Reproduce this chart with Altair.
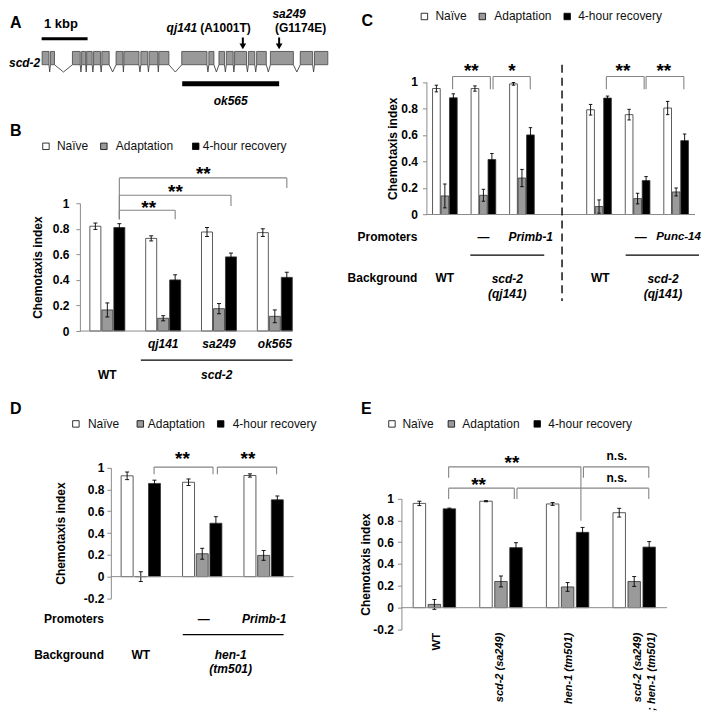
import altair as alt
import pandas as pd

FONT = "Liberation Sans"
SERIES = ["Naïve", "Adaptation", "4-hour recovery"]
FILLS = ["#ffffff", "#9a9a9a", "#000000"]

# ---------------- data ----------------
# A: scd-2 gene model (kbp)
A_exon_start = [0.01, 0.19, 0.67, 0.87, 0.98, 1.13, 1.31, 1.62, 1.79, 2.16, 2.34, 2.55,
                3.05, 3.64, 3.86, 4.02, 4.20, 4.50, 4.68, 4.98, 5.63, 5.94]
A_exon_end = [0.16, 0.28, 0.84, 0.96, 1.10, 1.28, 1.47, 1.77, 2.12, 2.31, 2.53, 2.77,
              3.60, 3.75, 3.98, 4.17, 4.46, 4.64, 4.89, 5.48, 5.90, 6.23]
A_deletion = [3.06, 5.17]          # ok565
A_mut_pos = [4.38, 5.17]
A_mut_name = ["qj141", "sa249"]
A_mut_change = ["(A1001T)", "(G1174E)"]

# B
B_groups = ["WT", "qj141", "sa249", "ok565"]
B_naive = [0.82, 0.725, 0.775, 0.77]
B_naive_err = [0.025, 0.02, 0.035, 0.03]
B_adapt = [0.165, 0.10, 0.175, 0.115]
B_adapt_err = [0.055, 0.02, 0.04, 0.05]
B_recov = [0.81, 0.40, 0.58, 0.42]
B_recov_err = [0.03, 0.04, 0.03, 0.04]
B_sig = ["**", "**", "**"]

# C
C_promoter = ["", "—", "Primb-1", "", "—", "Punc-14"]
C_background = ["WT", "scd-2\n(qj141)", "WT", "scd-2\n(qj141)"]
C_naive = [0.95, 0.95, 0.985, 0.79, 0.753, 0.803]
C_naive_err = [0.025, 0.02, 0.01, 0.04, 0.04, 0.05]
C_adapt = [0.14, 0.145, 0.275, 0.06, 0.12, 0.17]
C_adapt_err = [0.09, 0.045, 0.065, 0.05, 0.04, 0.03]
C_recov = [0.88, 0.415, 0.60, 0.878, 0.256, 0.557]
C_recov_err = [0.03, 0.045, 0.055, 0.015, 0.03, 0.05]
C_sig = ["**", "*", "**", "**"]

# D
D_promoter = ["", "—", "Primb-1"]
D_background = ["WT", "hen-1\n(tm501)"]
D_naive = [0.925, 0.866, 0.928]
D_naive_err = [0.035, 0.03, 0.015]
D_adapt = [0.0, 0.21, 0.195]
D_adapt_err = [0.045, 0.05, 0.045]
D_recov = [0.855, 0.49, 0.705]
D_recov_err = [0.03, 0.06, 0.035]
D_sig = ["**", "**"]

# E
E_groups = ["WT", "scd-2 (sa249)", "hen-1 (tm501)", "scd-2 (sa249)\n; hen-1 (tm501)"]
E_naive = [0.955, 0.975, 0.95, 0.87]
E_naive_err = [0.02, 0.005, 0.013, 0.04]
E_adapt = [0.03, 0.24, 0.19, 0.24]
E_adapt_err = [0.045, 0.05, 0.04, 0.045]
E_recov = [0.905, 0.55, 0.69, 0.555]
E_recov_err = [0.007, 0.045, 0.045, 0.05]
E_sig = ["**", "n.s.", "**", "n.s."]

# ---------------- layout ----------------
COL_W = [350, 335]
ROW_H = [112, 250, 330]
COL_X = [8, 8 + COL_W[0]]
ROW_Y = [8, 8 + ROW_H[0], 8 + ROW_H[0] + ROW_H[1]]
AX = "#8c8c8c"
BR = "#858585"


class Panel:
    """Linear x / y scales whose ranges are given as page pixels of two domain values."""

    def __init__(self, xd, xp, yd, yp, col, row, yax):
        self.xd, self.xp, self.yd, self.yp = xd, xp, yd, yp
        ox, oy = COL_X[col], ROW_Y[row]
        self.xs = alt.Scale(domain=list(xd), range=[xp[0] - ox, xp[1] - ox], zero=False, nice=False)
        self.ys = alt.Scale(domain=list(yd), range=[yp[0] - oy, yp[1] - oy], zero=False, nice=False)
        self.yax = yax

    def ux(self, px):
        return self.xd[0] + (px - self.xp[0]) * (self.xd[1] - self.xd[0]) / (self.xp[1] - self.xp[0])

    def uy(self, py):
        return self.yd[0] + (py - self.yp[0]) * (self.yd[1] - self.yd[0]) / (self.yp[1] - self.yp[0])

    def X(self, f):
        return alt.X(f"{f}:Q", scale=self.xs, axis=None)

    def Y(self, f):
        return alt.Y(f"{f}:Q", scale=self.ys, axis=self.yax)


def text_layer(P, xv, yv, tv, size=12, weight="bold", style="normal",
               align="center", baseline="middle", color="black", **kw):
    df = pd.DataFrame({"x": list(xv), "y": list(yv), "t": list(tv)})
    return alt.Chart(df).mark_text(font=FONT, fontSize=size, fontWeight=weight, fontStyle=style,
                                   align=align, baseline=baseline, color=color, **kw).encode(
        x=P.X("x"), y=P.Y("y"), text="t:N")


def hrule(P, x1, x2, yv, color="black", width=1.0, **kw):
    df = pd.DataFrame({"x": list(x1), "x2": list(x2), "y": list(yv)})
    return alt.Chart(df).mark_rule(color=color, strokeWidth=width, **kw).encode(
        x=P.X("x"), x2="x2", y=P.Y("y"))


def vrule(P, xv, y1, y2, color="black", width=1.0, **kw):
    df = pd.DataFrame({"x": list(xv), "y": list(y1), "y2": list(y2)})
    return alt.Chart(df).mark_rule(color=color, strokeWidth=width, **kw).encode(
        x=P.X("x"), y=P.Y("y"), y2="y2")


def yaxis(vals, offset, label_pad, title_pad):
    return alt.Axis(values=vals, labelExpr="toString(datum.value)", offset=offset,
                    tickSize=4, tickColor=AX, domainColor=AX, domainWidth=1, grid=False,
                    labelFont=FONT, labelFontSize=12, labelFontWeight="bold", labelColor="black",
                    labelPadding=label_pad, labelFlush=False, labelOverlap=False,
                    title="Chemotaxis index", titleFont=FONT, titleFontSize=12,
                    titleFontWeight="bold", titleColor="black", titlePadding=title_pad)


FILL_SCALE = alt.Scale(domain=SERIES, range=FILLS)


def legend_layers(P, sq_px, lab_px, y_px):
    y = P.uy(y_px)
    df = pd.DataFrame({"x": [P.ux(v) for v in sq_px], "y": [y] * 3, "series": SERIES})
    sq = alt.Chart(df).mark_point(shape="square", filled=True, size=42, stroke="black",
                                  strokeWidth=0.8, opacity=1).encode(
        x=P.X("x"), y=P.Y("y"), fill=alt.Fill("series:N", scale=FILL_SCALE, legend=None))
    lab = text_layer(P, [P.ux(v) for v in lab_px], [y] * 3, SERIES, weight="normal",
                     align="left", color="#111111")
    return [sq, lab]


def bar_layers(P, pos, vals, errs, pitch, bw, capw):
    rows = []
    for k, s in enumerate(SERIES):
        for i, p in enumerate(pos):
            c = p + (k - 1) * pitch
            v, e = vals[k][i], errs[k][i]
            rows.append({"series": s, "c": c, "x0": c - bw / 2, "x1": c + bw / 2, "v": v,
                         "base": 0.0, "lo": v - e, "hi": v + e, "k0": c - capw, "k1": c + capw})
    df = pd.DataFrame(rows)
    bars = alt.Chart(df).mark_bar(stroke="#333333", strokeWidth=0.8).encode(
        x=P.X("x0"), x2="x1", y=P.Y("v"), y2="base",
        fill=alt.Fill("series:N", scale=FILL_SCALE, legend=None))
    whisk = alt.Chart(df).mark_rule(color="black", strokeWidth=0.9).encode(
        x=P.X("c"), y=P.Y("lo"), y2="hi")
    cap_hi = alt.Chart(df).mark_rule(color="black", strokeWidth=0.9).encode(
        x=P.X("k0"), x2="k1", y=P.Y("hi"))
    cap_lo = alt.Chart(df).mark_rule(color="black", strokeWidth=0.9).encode(
        x=P.X("k0"), x2="k1", y=P.Y("lo"))
    return [bars, whisk, cap_hi, cap_lo]


def bracket_layers(P, x1, x2, level, tip1, tip2, labels, lx, ly):
    layers = [hrule(P, x1, x2, level, BR, 1.1),
              vrule(P, x1, level, tip1, BR, 1.1),
              vrule(P, x2, level, tip2, BR, 1.1)]
    st = [(a, b, t) for a, b, t in zip(lx, ly, labels) if "*" in t]
    ns = [(a, b, t) for a, b, t in zip(lx, ly, labels) if "*" not in t]
    if st:
        layers.append(text_layer(P, [s[0] for s in st], [s[1] for s in st],
                                 [s[2] for s in st], size=19, baseline="alphabetic", dy=11))
    if ns:
        layers.append(text_layer(P, [s[0] for s in ns], [s[1] for s in ns],
                                 [s[2] for s in ns], size=12, baseline="alphabetic", dy=4))
    return layers


# ---------------- panel A ----------------
PA = Panel((0, 1), (40.7, 86.7), (0, 1), (63.3, 50.0), 0, 0, None)
exon_df = pd.DataFrame({"s": A_exon_start, "e": A_exon_end, "b": 0.0, "t": 1.0})
exons = alt.Chart(exon_df).mark_rect(fill="#999999", stroke="#444444", strokeWidth=0.8).encode(
    x=PA.X("s"), x2="e", y=PA.Y("b"), y2="t")
irows = []
for i in range(len(A_exon_start) - 1):
    a, b = A_exon_end[i], A_exon_start[i + 1]
    irows += [{"id": i, "o": 0, "x": a, "y": 0.0},
              {"id": i, "o": 1, "x": (a + b) / 2, "y": -0.55},
              {"id": i, "o": 2, "x": b, "y": 0.0}]
introns = alt.Chart(pd.DataFrame(irows)).mark_line(color="#444444", strokeWidth=0.9).encode(
    x=PA.X("x"), y=PA.Y("y"), detail="id:N", order="o:Q")
heads = alt.Chart(pd.DataFrame({"x": A_mut_pos, "y": [1.38] * 2})).mark_point(
    shape="triangle-down", filled=True, size=45, color="black", opacity=1).encode(
    x=PA.X("x"), y=PA.Y("y"))
lab_y = PA.uy(31.0)
panelA = alt.layer(
    introns, exons,
    hrule(PA, [0], [1], [1.955], "black", 3),
    hrule(PA, [A_deletion[0]], [A_deletion[1]], [-1.44], "black", 5),
    vrule(PA, A_mut_pos, [2.05] * 2, [1.5] * 2, "black", 2),
    heads,
    text_layer(PA, [PA.ux(9)], [PA.uy(27)], ["A"], size=16, align="left", baseline="alphabetic"),
    text_layer(PA, [0.05], [2.73], ["1 kbp"], size=13, align="left", baseline="alphabetic"),
    text_layer(PA, [-0.03], [-0.2], ["scd-2"], style="italic", align="right",
               baseline="alphabetic"),
    text_layer(PA, [3.387], [lab_y], [A_mut_name[0]], style="italic", align="right",
               baseline="alphabetic"),
    text_layer(PA, [3.452], [lab_y], [A_mut_change[0]], align="left", baseline="alphabetic"),
    text_layer(PA, [5.387], [PA.uy(17.0)], [A_mut_name[1]], style="italic", baseline="alphabetic"),
    text_layer(PA, [5.637], [lab_y], [A_mut_change[1]], baseline="alphabetic"),
    text_layer(PA, [4.115], [-3.0], ["ok565"], style="italic", baseline="alphabetic"),
).properties(width=COL_W[0], height=ROW_H[0])

# ---------------- panel B ----------------
Y01 = [0, 0.2, 0.4, 0.6, 0.8, 1]
YM = [-0.2, 0, 0.2, 0.4, 0.6, 0.8, 1]
PB = Panel((0, 1), (106.5, 162.4), (0, 1), (330, 202), 0, 1,
           yaxis(Y01, -(79 - COL_X[0]), 7, 7.5))
B_pos = [0, 1, 2, 3]
panelB = alt.layer(
    *bar_layers(PB, B_pos, [B_naive, B_adapt, B_recov],
                [B_naive_err, B_adapt_err, B_recov_err], 0.2147, 0.197, 0.036),
    hrule(PB, [-0.492], [3.318], [0], AX, 1),
    *bracket_layers(PB, [0.215] * 3, [1.215, 2.215, 3.215], [0.945, 1.0625, 1.198],
                    [0.875] * 3, [0.875, 0.979, 1.12], B_sig, [0.74, 1.22, 1.72], [1.0, 1.13, 1.27]),
    text_layer(PB, B_pos[1:], [-0.133] * 3, B_groups[1:], style="italic", baseline="alphabetic"),
    hrule(PB, [0.6], [3.318], [-0.227], "black", 1.2),
    text_layer(PB, [0], [-0.375], [B_groups[0]], baseline="alphabetic"),
    text_layer(PB, [1.96], [-0.375], ["scd-2"], style="italic", baseline="alphabetic"),
    text_layer(PB, [PB.ux(9)], [PB.uy(135)], ["B"], size=16, align="left", baseline="alphabetic"),
    *legend_layers(PB, [45, 103, 195], [56, 115, 202], 145),
).properties(width=COL_W[0], height=ROW_H[1])

# ---------------- panel C ----------------
PC = Panel((0, 1), (444.5, 483.1), (0, 1), (213.3, 80.5), 1, 0,
           yaxis(Y01, -(426 - COL_X[1]), 5, 1.5))
C_pos = [0, 1, 2, 4, 5, 6]
panelC = alt.layer(
    *bar_layers(PC, C_pos, [C_naive, C_adapt, C_recov],
                [C_naive_err, C_adapt_err, C_recov_err], 0.22, 0.2, 0.045),
    hrule(PC, [-0.479], [6.49], [0], AX, 1),
    *bracket_layers(PC, [0.20, 1.25, 4.19, 5.22], [1.18, 2.215, 5.17, 6.2], [1.041] * 4,
                    [0.945] * 4, [0.945] * 4, C_sig, [0.687, 1.74, 4.62, 5.68], [1.117] * 4),
    vrule(PC, [3.04], [1.13], [-0.653], "#222222", 1.6, strokeDash=[8, 5]),
    text_layer(PC, [-0.712, -0.712], [-0.171, -0.477], ["Promoters", "Background"],
               align="right"),
    text_layer(PC, [1.0, 5.08], [-0.171] * 2, [C_promoter[1], C_promoter[4]]),
    text_layer(PC, [2.228], [-0.171], [C_promoter[2]], style="italic"),
    text_layer(PC, [PC.ux(678.5)], [-0.171], [C_promoter[5]], style="italic", size=11.5),
    hrule(PC, [0.66, 4.69], [2.578, PC.ux(699)], [-0.306] * 2, "black", 1.2),
    text_layer(PC, [0, 4.03], [-0.477] * 2, [C_background[0], C_background[2]]),
    text_layer(PC, [1.62, 5.66], [-0.483] * 2, [C_background[1], C_background[3]],
               style="italic", lineBreak="\n", lineHeight=15),
    text_layer(PC, [PC.ux(361)], [PC.uy(25)], ["C"], size=16, align="left", baseline="alphabetic"),
    *legend_layers(PC, [424, 482, 567], [435, 494, 578], 15),
).properties(width=COL_W[1], height=ROW_H[0])

# ---------------- panel D ----------------
PD = Panel((0, 1), (140, 201.5), (-0.2, 1), (597.8, 466.8), 0, 2,
           yaxis(YM, -(110 - COL_X[0]), 3, 15.5))
D_pos = [0, 1, 2]
panelD = alt.layer(
    *bar_layers(PD, D_pos, [D_naive, D_adapt, D_recov],
                [D_naive_err, D_adapt_err, D_recov_err], 0.2228, 0.195, 0.033),
    hrule(PD, [-0.488], [2.488], [0], AX, 1),
    *bracket_layers(PD, [0.216, 1.247], [1.176, 2.211], [1.005] * 2, [0.94] * 2,
                    [0.94] * 2, D_sig, [0.678, 1.745], [1.124] * 2),
    text_layer(PD, [-0.60, -0.60], [-0.385, -0.723], ["Promoters", "Background"],
               align="right"),
    text_layer(PD, [1.024], [-0.385], [D_promoter[1]]),
    text_layer(PD, [2.01], [-0.385], [D_promoter[2]], style="italic"),
    hrule(PD, [0.683], [2.325], [-0.531], "black", 1.2),
    text_layer(PD, [0], [-0.723], [D_background[0]]),
    text_layer(PD, [1.463], [-0.723], [D_background[1]], style="italic",
               lineBreak="\n", lineHeight=14),
    text_layer(PD, [PD.ux(9)], [PD.uy(413)], ["D"], size=16, align="left", baseline="alphabetic"),
    *legend_layers(PD, [75, 139.5, 220], [87, 147, 232], 423),
).properties(width=COL_W[0], height=ROW_H[2])

# ---------------- panel E ----------------
PE = Panel((0, 1), (434, 500.7), (-0.2, 1), (628.9, 497.7), 1, 1,
           yaxis(YM, -(401 - COL_X[1]), 4, 0))
E_pos = [0, 1, 2, 3]
panelE = alt.layer(
    *bar_layers(PE, E_pos, [E_naive, E_adapt, E_recov],
                [E_naive_err, E_adapt_err, E_recov_err], 0.225, 0.187, 0.03),
    hrule(PE, [-0.495], [3.493], [0], AX, 1),
    *bracket_layers(PE, [0.214, 2.238, 0.214, 1.24], [2.2, 3.219, 1.2, 3.219],
                    [1.29, 1.29, 1.095, 1.095], [1.189, 1.189, 0.9945, 0.9945],
                    [0.796, 1.189, 0.9945, 0.9945], E_sig,
                    [1.165, 2.739, 0.664, 2.739], [1.37, 1.385, 1.171, 1.187]),
    text_layer(PE, [0.04], [-0.229], [E_groups[0]], angle=270, align="right", size=11.5),
    text_layer(PE, [0.99, 2.02, 3.05], [-0.229] * 3, E_groups[1:], style="italic",
               angle=270, align="right", lineBreak="\n", lineHeight=15, size=11),
    text_layer(PE, [PE.ux(360.5)], [PE.uy(413)], ["E"], size=16, align="left", baseline="alphabetic"),
    *legend_layers(PE, [391.5, 451, 537], [402, 462, 548], 423),
).properties(width=COL_W[1], height=ROW_H[1])

chart = alt.concat(panelA, panelC, panelB, panelE, panelD, columns=2, spacing=0,
                   bounds="flush", padding=0).resolve_scale(
    x="independent", y="independent", fill="independent").configure_view(stroke=None)

chart.save("out.html", embed_options={"renderer": "svg", "actions": False})
